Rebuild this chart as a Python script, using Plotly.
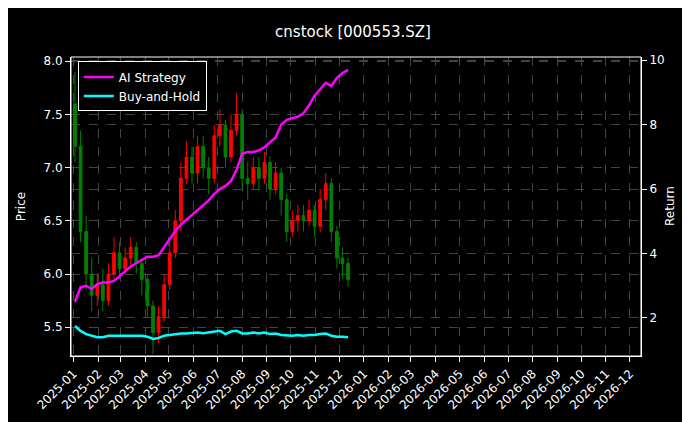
import pandas as pd
import plotly.graph_objects as go

# weekly bars, 2025-01-03 .. 2025-12-12
dates = pd.date_range("2025-01-03", periods=50, freq="W-FRI")

opens = [7.60, 7.20, 6.40, 6.00, 5.80, 5.90, 5.75, 6.00, 6.20, 6.05,
         6.15, 6.25, 6.10, 5.95, 5.70, 5.45, 5.60, 5.90, 6.20, 6.50,
         6.90, 7.10, 6.95, 7.20, 7.00, 6.90, 7.30, 7.40, 7.10, 7.35,
         7.50, 6.90, 6.85, 7.00, 6.90, 7.05, 6.80, 6.95, 6.70, 6.40,
         6.50, 6.55, 6.50, 6.60, 6.45, 6.70, 6.85, 6.40, 6.15, 6.10]
closes = [7.20, 6.40, 6.00, 5.80, 5.90, 5.75, 6.00, 6.20, 6.05, 6.15,
          6.25, 6.10, 5.95, 5.70, 5.45, 5.60, 5.90, 6.20, 6.50, 6.90,
          7.10, 6.95, 7.20, 7.00, 6.90, 7.30, 7.40, 7.10, 7.35, 7.50,
          6.90, 6.85, 7.00, 6.90, 7.05, 6.80, 6.95, 6.70, 6.40, 6.50,
          6.55, 6.50, 6.60, 6.45, 6.70, 6.85, 6.40, 6.15, 6.10, 5.95]
highs = [7.90, 7.35, 6.55, 6.15, 6.00, 6.05, 6.10, 6.35, 6.30, 6.25,
         6.35, 6.30, 6.15, 6.00, 5.75, 5.70, 6.00, 6.30, 6.60, 7.05,
         7.25, 7.20, 7.30, 7.30, 7.10, 7.40, 7.55, 7.45, 7.50, 7.70,
         7.55, 7.05, 7.10, 7.10, 7.15, 7.10, 7.05, 7.00, 6.75, 6.60,
         6.65, 6.65, 6.70, 6.65, 6.80, 6.95, 6.90, 6.45, 6.25, 6.15]
lows = [7.05, 6.30, 5.85, 5.65, 5.70, 5.65, 5.70, 5.95, 5.95, 6.00,
        6.05, 6.00, 5.80, 5.60, 5.25, 5.35, 5.55, 5.85, 6.15, 6.40,
        6.85, 6.85, 6.85, 6.90, 6.75, 6.85, 7.20, 7.00, 7.05, 7.30,
        6.80, 6.70, 6.80, 6.80, 6.85, 6.70, 6.75, 6.55, 6.30, 6.35,
        6.40, 6.40, 6.45, 6.35, 6.40, 6.60, 6.30, 6.05, 5.95, 5.88]

strategy = [2.50, 2.95, 3.00, 2.90, 3.05, 3.10, 3.10, 3.15, 3.30, 3.45,
            3.60, 3.70, 3.80, 3.90, 3.90, 3.95, 4.20, 4.45, 4.70, 4.90,
            5.05, 5.20, 5.35, 5.50, 5.65, 5.85, 6.00, 6.10, 6.25, 6.60,
            7.10, 7.15, 7.15, 7.20, 7.30, 7.45, 7.60, 8.00, 8.15, 8.20,
            8.25, 8.35, 8.60, 8.90, 9.10, 9.30, 9.20, 9.45, 9.60, 9.70]
buy_hold = [1.75, 1.60, 1.50, 1.45, 1.40, 1.40, 1.45, 1.45, 1.45, 1.45,
            1.47, 1.45, 1.45, 1.42, 1.35, 1.38, 1.45, 1.47, 1.50, 1.52,
            1.52, 1.53, 1.55, 1.53, 1.55, 1.58, 1.60, 1.50, 1.58, 1.60,
            1.52, 1.52, 1.55, 1.52, 1.55, 1.50, 1.52, 1.47, 1.45, 1.45,
            1.47, 1.45, 1.47, 1.47, 1.50, 1.52, 1.45, 1.42, 1.42, 1.40]

fig = go.Figure()
fig.add_trace(go.Candlestick(
    x=dates, open=opens, high=highs, low=lows, close=closes,
    increasing=dict(line=dict(color="red", width=1), fillcolor="red"),
    decreasing=dict(line=dict(color="green", width=1), fillcolor="green"),
    showlegend=False, whiskerwidth=0,
))
fig.add_trace(go.Scatter(x=dates, y=strategy, mode="lines", name="AI Strategy",
                         line=dict(color="magenta", width=2.5), yaxis="y2"))
fig.add_trace(go.Scatter(x=dates, y=buy_hold, mode="lines", name="Buy-and-Hold",
                         line=dict(color="cyan", width=2.5), yaxis="y2"))

axis_common = dict(showline=True, linecolor="white", mirror=False, ticks="outside",
                   tickcolor="white", tickfont=dict(color="white", size=12))
grid = dict(showgrid=True, gridcolor="#444444", griddash="dash", gridwidth=0.6)

fig.update_layout(
    width=690, height=422,
    paper_bgcolor="black", plot_bgcolor="black",
    font=dict(family="DejaVu Sans", color="white", size=12),
    title=dict(text="cnstock [000553.SZ]", x=0.5, xanchor="center", y=0.955, font=dict(size=15)),
    margin=dict(l=61, r=57, t=49, b=74),
    xaxis=dict(type="date", range=["2024-12-29", "2026-12-15"], dtick="M1",
               tick0="2025-01-01", tickformat="%Y-%m", tickangle=-45,
               rangeslider=dict(visible=False), **grid, **axis_common),
    yaxis=dict(title=dict(text="Price", font=dict(size=12)), range=[5.23, 8.04],
               dtick=0.5, tickformat=".1f", zeroline=False, **grid, **axis_common),
    yaxis2=dict(overlaying="y", side="right",
                range=[0.82, 10.1], dtick=2, zeroline=False, **grid, **axis_common),
    legend=dict(x=0.012, y=0.985, xanchor="left", yanchor="top", bgcolor="black",
                bordercolor="white", borderwidth=1, font=dict(size=12)),
)
fig.add_annotation(text="Return", xref="paper", yref="paper", x=1.05, y=0.5,
                   textangle=-90, showarrow=False, xanchor="center", yanchor="middle",
                   font=dict(size=12, color="white"))
fig.add_shape(type="rect", xref="paper", yref="paper", x0=0, y0=0, x1=1, y1=1,
              line=dict(color="white", width=1))

fig.write_html("out.html")
